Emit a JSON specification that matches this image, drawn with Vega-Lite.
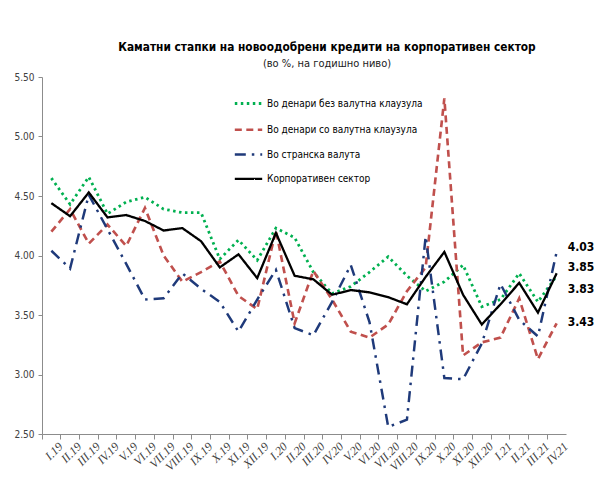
{
  "$schema": "https://vega.github.io/schema/vega-lite/v6.json",
  "autosize": "none",
  "width": 524,
  "height": 357,
  "padding": {"left": 42, "top": 77, "right": 28, "bottom": 52},
  "background": "white",
  "config": {
    "view": {"stroke": null},
    "font": "Liberation Sans Narrow, DejaVu Sans Condensed, Roboto Condensed, sans-serif"
  },
  "title": {
    "text": "Каматни стапки на новоодобрени кредити на корпоративен сектор",
    "subtitle": "(во %, на годишно ниво)",
    "anchor": "middle",
    "frame": "group",
    "dx": 23,
    "offset": 3,
    "fontSize": 11.8,
    "fontWeight": "bold",
    "color": "#000000",
    "subtitleFontSize": 11,
    "subtitleColor": "#1a1a1a",
    "subtitlePadding": 4,
    "font": "Liberation Sans Narrow, DejaVu Sans Condensed, sans-serif",
    "subtitleFont": "Liberation Sans Narrow, DejaVu Sans Condensed, sans-serif"
  },
  "data": {
    "values": [
      {"m": "I.19", "Во денари без валутна клаузула": 4.65, "Во денари со валутна клаузула": 4.20, "Во странска валута": 4.04, "Корпоративен сектор": 4.44},
      {"m": "II.19", "Во денари без валутна клаузула": 4.43, "Во денари со валутна клаузула": 4.39, "Во странска валута": 3.89, "Корпоративен сектор": 4.33},
      {"m": "III.19", "Во денари без валутна клаузула": 4.66, "Во денари со валутна клаузула": 4.10, "Во странска валута": 4.51, "Корпоративен сектор": 4.53},
      {"m": "IV.19", "Во денари без валутна клаузула": 4.35, "Во денари со валутна клаузула": 4.26, "Во странска валута": 4.22, "Корпоративен сектор": 4.32},
      {"m": "V.19", "Во денари без валутна клаузула": 4.45, "Во денари со валутна клаузула": 4.08, "Во странска валута": 3.93, "Корпоративен сектор": 4.34},
      {"m": "VI.19", "Во денари без валутна клаузула": 4.49, "Во денари со валутна клаузула": 4.40, "Во странска валута": 3.63, "Корпоративен сектор": 4.29},
      {"m": "VII.19", "Во денари без валутна клаузула": 4.39, "Во денари со валутна клаузула": 4.00, "Во странска валута": 3.64, "Корпоративен сектор": 4.21},
      {"m": "VIII.19", "Во денари без валутна клаузула": 4.36, "Во денари со валутна клаузула": 3.78, "Во странска валута": 3.85, "Корпоративен сектор": 4.23},
      {"m": "IX.19", "Во денари без валутна клаузула": 4.36, "Во денари со валутна клаузула": 3.86, "Во странска валута": 3.72, "Корпоративен сектор": 4.12},
      {"m": "X.19", "Во денари без валутна клаузула": 3.97, "Во денари со валутна клаузула": 3.95, "Во странска валута": 3.61, "Корпоративен сектор": 3.90},
      {"m": "XI.19", "Во денари без валутна клаузула": 4.13, "Во денари со валутна клаузула": 3.66, "Во странска валута": 3.36, "Корпоративен сектор": 4.01},
      {"m": "XII.19", "Во денари без валутна клаузула": 3.96, "Во денари со валутна клаузула": 3.55, "Во странска валута": 3.63, "Корпоративен сектор": 3.81},
      {"m": "I.20", "Во денари без валутна клаузула": 4.23, "Во денари со валутна клаузула": 4.21, "Во странска валута": 3.88, "Корпоративен сектор": 4.19},
      {"m": "II.20", "Во денари без валутна клаузула": 4.15, "Во денари со валутна клаузула": 3.43, "Во странска валута": 3.39, "Корпоративен сектор": 3.83},
      {"m": "III.20", "Во денари без валутна клаузула": 3.86, "Во денари со валутна клаузула": 3.87, "Во странска валута": 3.33, "Корпоративен сектор": 3.80},
      {"m": "IV.20", "Во денари без валутна клаузула": 3.68, "Во денари со валутна клаузула": 3.63, "Во странска валута": 3.61, "Корпоративен сектор": 3.67},
      {"m": "V.20", "Во денари без валутна клаузула": 3.74, "Во денари со валутна клаузула": 3.36, "Во странска валута": 3.92, "Корпоративен сектор": 3.71},
      {"m": "VI.20", "Во денари без валутна клаузула": 3.86, "Во денари со валутна клаузула": 3.31, "Во странска валута": 3.44, "Корпоративен сектор": 3.69},
      {"m": "VII.20", "Во денари без валутна клаузула": 3.99, "Во денари со валутна клаузула": 3.42, "Во странска валута": 2.56, "Корпоративен сектор": 3.65},
      {"m": "VIII.20", "Во денари без валутна клаузула": 3.83, "Во денари со валутна клаузула": 3.70, "Во странска валута": 2.62, "Корпоративен сектор": 3.59},
      {"m": "IX.20", "Во денари без валутна клаузула": 3.70, "Во денари со валутна клаузула": 3.90, "Во странска валута": 4.16, "Корпоративен сектор": 3.82},
      {"m": "X.20", "Во денари без валутна клаузула": 3.78, "Во денари со валутна клаузула": 5.32, "Во странска валута": 2.97, "Корпоративен сектор": 4.03},
      {"m": "XI.20", "Во денари без валутна клаузула": 3.92, "Во денари со валутна клаузула": 3.16, "Во странска валута": 2.96, "Корпоративен сектор": 3.67},
      {"m": "XII.20", "Во денари без валутна клаузула": 3.57, "Во денари со валутна клаузула": 3.27, "Во странска валута": 3.26, "Корпоративен сектор": 3.42},
      {"m": "I.21", "Во денари без валутна клаузула": 3.63, "Во денари со валутна клаузула": 3.31, "Во странска валута": 3.76, "Корпоративен сектор": 3.59},
      {"m": "II.21", "Во денари без валутна клаузула": 3.85, "Во денари со валутна клаузула": 3.64, "Во странска валута": 3.46, "Корпоративен сектор": 3.77},
      {"m": "III.21", "Во денари без валутна клаузула": 3.61, "Во денари со валутна клаузула": 3.13, "Во странска валута": 3.32, "Корпоративен сектор": 3.52},
      {"m": "IV.21", "Во денари без валутна клаузула": 3.83, "Во денари со валутна клаузула": 3.43, "Во странска валута": 4.03, "Корпоративен сектор": 3.85}
    ]
  },
  "transform": [
    {"fold": ["Во денари без валутна клаузула", "Во денари со валутна клаузула", "Во странска валута", "Корпоративен сектор"], "as": ["series", "value"]}
  ],
  "encoding": {
    "x": {
      "field": "m",
      "type": "ordinal",
      "sort": null,
      "bandPosition": 0.5,
      "scale": {"type": "band", "paddingInner": 0, "paddingOuter": 0},
      "axis": {
        "title": null,
        "bandPosition": 0,
        "labelOffset": 9.36,
        "labelAngle": -45,
        "labelAlign": "right",
        "labelBaseline": "middle",
        "labelPadding": 5,
        "labelFont": "Liberation Serif",
        "labelFontStyle": "italic",
        "labelFontSize": 12,
        "labelColor": "#404040",
        "domainColor": "#8c8c8c",
        "tickColor": "#8c8c8c",
        "tickSize": 5,
        "labelOverlap": false
      }
    },
    "y": {
      "field": "value",
      "type": "quantitative",
      "scale": {"domain": [2.5, 5.5], "nice": false, "zero": false},
      "axis": {
        "title": null,
        "values": [2.5, 3, 3.5, 4, 4.5, 5, 5.5],
        "format": ".2f",
        "grid": false,
        "domainColor": "#8c8c8c",
        "tickColor": "#8c8c8c",
        "tickSize": 4,
        "labelPadding": 4,
        "labelFontSize": 10,
        "labelColor": "#404040"
      }
    }
  },
  "layer": [
    {
      "mark": {"type": "line", "strokeCap": "butt", "strokeJoin": "miter"},
      "encoding": {
        "color": {
          "field": "series",
          "type": "nominal",
          "scale": {
            "domain": ["Во денари без валутна клаузула", "Во денари со валутна клаузула", "Во странска валута", "Корпоративен сектор"],
            "range": ["#00b050", "#c0504d", "#1f3a7a", "#000000"]
          },
          "legend": {
            "title": null,
            "orient": "none",
            "legendX": 191,
            "legendY": 11,
            "symbolType": "stroke",
            "symbolSize": 750,
            "rowPadding": 4.3,
            "labelOffset": 3,
            "labelFontSize": 10,
            "labelColor": "#000000",
            "labelLimit": 300
          }
        },
        "strokeDash": {
          "field": "series",
          "type": "nominal",
          "scale": {
            "domain": ["Во денари без валутна клаузула", "Во денари со валутна клаузула", "Во странска валута", "Корпоративен сектор"],
            "range": [[2.5, 3.5], [7, 4.5], [11, 6, 2.5, 6], [1, 0]]
          },
          "legend": null
        },
        "strokeWidth": {
          "field": "series",
          "type": "nominal",
          "scale": {
            "domain": ["Во денари без валутна клаузула", "Во денари со валутна клаузула", "Во странска валута", "Корпоративен сектор"],
            "range": [2.8, 2.3, 2.5, 3.8]
          },
          "legend": null
        }
      }
    },
    {
      "transform": [{"filter": "datum.m === 'IV.21' && datum.series === 'Во странска валута'"}],
      "mark": {"type": "text", "align": "left", "baseline": "middle", "dx": 11, "dy": -5, "fontSize": 12, "fontWeight": "bold", "color": "#000000"},
      "encoding": {"text": {"field": "value", "type": "quantitative", "format": ".2f"}}
    },
    {
      "transform": [{"filter": "datum.m === 'IV.21' && datum.series === 'Корпоративен сектор'"}],
      "mark": {"type": "text", "align": "left", "baseline": "middle", "dx": 11, "dy": -6, "fontSize": 12, "fontWeight": "bold", "color": "#000000"},
      "encoding": {"text": {"field": "value", "type": "quantitative", "format": ".2f"}}
    },
    {
      "transform": [{"filter": "datum.m === 'IV.21' && datum.series === 'Во денари без валутна клаузула'"}],
      "mark": {"type": "text", "align": "left", "baseline": "middle", "dx": 11, "dy": 13, "fontSize": 12, "fontWeight": "bold", "color": "#000000"},
      "encoding": {"text": {"field": "value", "type": "quantitative", "format": ".2f"}}
    },
    {
      "transform": [{"filter": "datum.m === 'IV.21' && datum.series === 'Во денари со валутна клаузула'"}],
      "mark": {"type": "text", "align": "left", "baseline": "middle", "dx": 11, "dy": -1, "fontSize": 12, "fontWeight": "bold", "color": "#000000"},
      "encoding": {"text": {"field": "value", "type": "quantitative", "format": ".2f"}}
    }
  ]
}
